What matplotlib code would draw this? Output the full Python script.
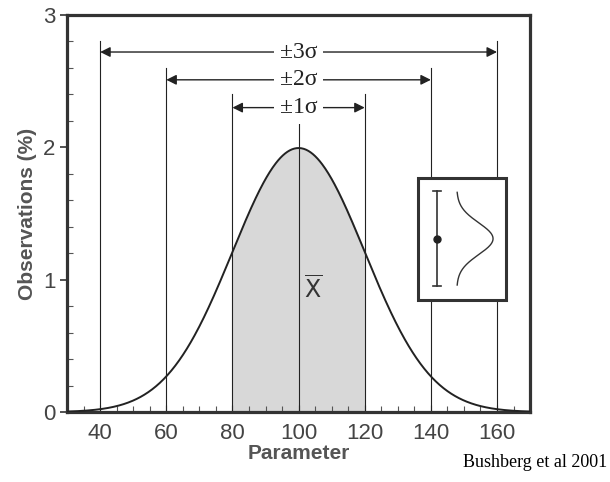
import numpy as np
import matplotlib.pyplot as plt
from matplotlib.ticker import MultipleLocator

# distribution parameters
mean = 100
sigma = 20
sigma_levels = [3, 2, 1]
sigma_labels = ['±3σ', '±2σ', '±1σ']
arrow_y = [2.72, 2.51, 2.30]
line_top = [2.80, 2.60, 2.40]
mean_top = 2.18

# inset (error bar + sideways gaussian)
inset_box = [136.1, 0.85, 26.5, 0.92]   # x, y, w, h
err_x = 141.8
err_lo, err_mid, err_hi = 0.95, 1.31, 1.67

x_ticks = [40, 60, 80, 100, 120, 140, 160]
y_ticks = [0, 1, 2, 3]

x = np.linspace(30, 170, 600)
y = 100 * np.exp(-(x - mean)**2 / (2 * sigma**2)) / (sigma * np.sqrt(2 * np.pi))

fig = plt.figure(figsize=(6.1, 4.82), dpi=100)
ax = fig.add_axes([0.110, 0.145, 0.759, 0.824])

# shaded +-1 sigma region
m = (x >= mean - sigma) & (x <= mean + sigma)
ax.fill_between(x[m], 0, y[m], color='#d8d8d8', zorder=1)
ax.plot(x, y, color='#222222', lw=1.4, zorder=3)

# vertical lines and arrows
for k, lab, ay, top in zip(sigma_levels, sigma_labels, arrow_y, line_top):
    for xv in (mean - k * sigma, mean + k * sigma):
        ax.plot([xv, xv], [0, top], color='#222222', lw=0.8, zorder=2)
        ax.annotate('', xy=(xv, ay), xytext=(mean, ay),
                    arrowprops=dict(arrowstyle='-|>', color='#222222', lw=1.0,
                                    mutation_scale=15, shrinkA=0, shrinkB=0))
    ax.text(mean, ay, lab, ha='center', va='center', fontsize=17,
            family='Liberation Serif', color='#222222',
            bbox=dict(facecolor='white', edgecolor='none', pad=4), zorder=4)

# mean line
ax.plot([mean, mean], [0, mean_top], color='#222222', lw=0.8, zorder=2)
ax.text(104.5, 0.92, r'$\overline{\mathsf{X}}$', ha='center', va='center',
        fontsize=17, color='#333333', zorder=4)

# inset box
bx, by, bw, bh = inset_box
ax.add_patch(plt.Rectangle((bx, by), bw, bh, facecolor='white',
                           edgecolor='#333333', lw=2.2, zorder=5))
ax.plot([err_x, err_x], [err_lo, err_hi], color='#333333', lw=1.2, zorder=6)
for yy in (err_lo, err_hi):
    ax.plot([err_x - 1.2, err_x + 1.2], [yy, yy], color='#333333', lw=1.2, zorder=6)
ax.plot(err_x, err_mid, 'o', color='#222222', ms=5, zorder=6)
yy = np.linspace(0.96, 1.66, 200)
gx = 147.8 + 11 * np.exp(-(yy - err_mid)**2 / (2 * 0.12**2))
ax.plot(gx, yy, color='#333333', lw=1.0, zorder=6)

ax.set_xlim(30, 170)
ax.set_ylim(0, 3)
ax.set_xticks(x_ticks)
ax.set_yticks(y_ticks)
ax.xaxis.set_minor_locator(MultipleLocator(5))
ax.yaxis.set_minor_locator(MultipleLocator(0.2))
ax.tick_params(which='major', axis='y', direction='out', length=5, width=1.2,
               colors='#333333', labelsize=16, labelcolor='#444444')
ax.tick_params(which='major', axis='x', direction='in', length=5,
               labelsize=16, labelcolor='#444444', pad=8)
ax.tick_params(which='minor', direction='in', length=4, width=0.8, colors='#555555')
for lab in ax.get_xticklabels() + ax.get_yticklabels():
    lab.set_family('Liberation Sans')
for s in ax.spines.values():
    s.set_linewidth(2.3)
    s.set_color('#333333')

ax.set_xlabel('Parameter', fontsize=15, fontweight='bold', color='#555555',
              family='Liberation Sans', labelpad=0)
ax.set_ylabel('Observations (%)', fontsize=15, fontweight='bold', color='#555555',
              family='Liberation Sans', labelpad=4)
fig.text(0.995, 0.04, 'Bushberg et al 2001', ha='right', va='center',
         fontsize=13, family='Liberation Serif', color='black')

fig.savefig('out.png', dpi=100)
